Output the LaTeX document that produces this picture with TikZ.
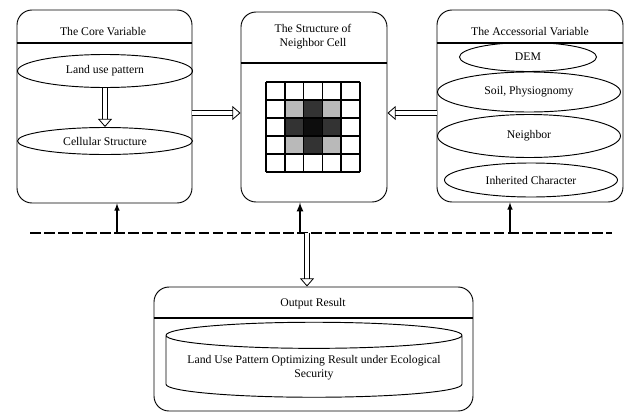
\documentclass[tikz,border=0pt]{standalone}
\usepackage{fontspec}
\setmainfont{Liberation Serif}
\usetikzlibrary{arrows.meta,fit,shapes.geometric}
\def\pxu{0.03cm}

\begin{document}
\begin{tikzpicture}[x=0.03cm,y=-0.03cm,>=latex,
  font=\fontsize{10}{12}\selectfont,
  panel/.style={draw,rounded corners=0.45cm,inner sep=0pt,line width=0.8pt},
  oval/.style={draw,ellipse,inner sep=0pt,line width=0.8pt},
  headline/.style={line width=1pt},
  hollow/.style={double,double distance=4pt,line width=0.7pt,-{Triangle[open,length=7pt,width=12pt]}},
  feed/.style={->,line width=1.1pt},
  bus/.style={line width=2.2pt,dash pattern=on 9pt off 3pt},
  gridline/.style={line width=1.2pt}]

\useasboundingbox (0,0) rectangle (632,413);

% core variable
\node[panel,fit={(17,10)(192,203)}] (core) {};
\node (coreT) at (103,32) {The Core Variable};
\draw[headline] (core.west |- 0,43) -- (core.east |- 0,43);
\node[oval,minimum width=175*\pxu,minimum height=33*\pxu] (land) at (105,71) {Land use pattern};
\node[oval,minimum width=175*\pxu,minimum height=27*\pxu] (cell) at (105,141) {Cellular Structure};
\draw[hollow] (land) -- (cell);

% neighbor cell
\node[panel,fit={(241,12)(387,202)}] (nbr) {};
\node[align=center] (nbrT) at (313,37) {The Structure of\\Neighbor Cell};
\draw[headline] (nbr.west |- 0,63) -- (nbr.east |- 0,63);
\foreach \c/\r/\col in {1/1/gray!55,2/1/black!80,3/1/gray!55,
                        1/2/black!80,2/2/black!95,3/2/black!80,
                        1/3/gray!55,2/3/black!80,3/3/gray!55}
  \fill[\col] (266+\c*18.8,82+\r*18) rectangle ++(18.8,18);
\foreach \i in {0,...,5} {
  \draw[gridline] (266+\i*18.8,82) -- (266+\i*18.8,172);
  \draw[gridline] (266,82+\i*18) -- (360,82+\i*18);
}

% accessorial variable
\node[panel,fit={(437,10)(623,202)}] (acc) {};
\node (accT) at (530,32) {The Accessorial Variable};
\draw[headline] (acc.west |- 0,43) -- (acc.east |- 0,43);
\node[oval,minimum width=137*\pxu,minimum height=29*\pxu] (dem) at (528,57) {DEM};
\node[oval,minimum width=183*\pxu,minimum height=40*\pxu] (soil) at (529,92) {Soil, Physiognomy};
\node[oval,minimum width=183*\pxu,minimum height=43*\pxu] (ngh) at (529,136) {Neighbor};
\node[oval,minimum width=173*\pxu,minimum height=34*\pxu] (inh) at (531,180) {Inherited Character};

\draw[hollow] (core.east |- 0,113) -- (nbr.west |- 0,113);
\draw[hollow] (acc.west |- 0,113) -- (nbr.east |- 0,113);

% bus
\coordinate (busW) at (30,233);
\coordinate (busE) at (612,233);
\draw[bus] (busW) -- (busE);
\coordinate (tapL) at (117,233);
\coordinate (tapM) at (300,233);
\coordinate (tapR) at (510,233);
\coordinate (tapO) at (307,233);
\draw[feed] (tapL) -- (tapL |- core.south);
\draw[feed,line width=1.6pt] (tapM) -- (tapM |- nbr.south);
\draw[feed] (tapR) -- (tapR |- acc.south);

% output
\node[panel,fit={(154,287)(473,411)}] (out) {};
\node (outT) at (313,304) {Output Result};
\draw[headline] (out.west |- 0,318) -- (out.east |- 0,318);
\node[cylinder,draw,line width=0.8pt,shape border rotate=90,aspect=0.1,
  minimum width=296*\pxu,minimum height=75*\pxu,align=center] (res) at (314,368)
  {Land Use Pattern Optimizing Result under Ecological\\Security};
\draw[hollow] (tapO) -- (tapO |- out.north);

\end{tikzpicture}
\end{document}
